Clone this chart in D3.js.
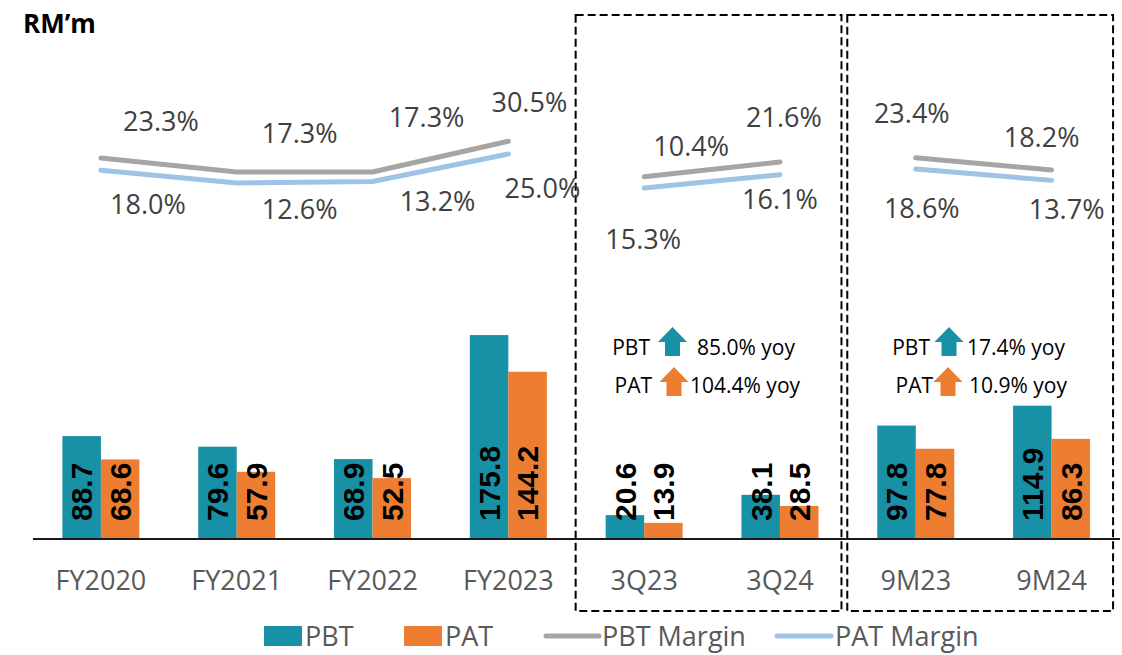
<!DOCTYPE html>
<html>
<head>
<meta charset="utf-8">
<script src="https://cdn.jsdelivr.net/npm/d3@7"></script>
<style>
  body { margin: 0; background: #fff; }
  svg { font-family: "Open Sans", sans-serif; }
</style>
</head>
<body>
<div id="chart"></div>
<script>
// data
var categories = ["FY2020", "FY2021", "FY2022", "FY2023", "3Q23", "3Q24", "9M23", "9M24"];
var pbt = [88.7, 79.6, 68.9, 175.8, 20.6, 38.1, 97.8, 114.9];
var pat = [68.6, 57.9, 52.5, 144.2, 13.9, 28.5, 77.8, 86.3];
var pbtMargin = [23.3, 17.3, 17.3, 30.5, 15.3, 21.6, 23.4, 18.2];
var patMargin = [18.0, 12.6, 13.2, 25.0, 10.4, 16.1, 18.6, 13.7];
// line segments (the margin lines break between groups)
var segments = [["FY2020", "FY2021", "FY2022", "FY2023"], ["3Q23", "3Q24"], ["9M23", "9M24"]];
// dashed boxes and yoy notes
var boxGroups = [["3Q23", "3Q24"], ["9M23", "9M24"]];
var yoyPbt = ["85.0%", "17.4%"];
var yoyPat = ["104.4%", "10.9%"];

// label layout (offsets from the line points, the labels were moved by hand)
var upperOffset = [[60, -27], [63, -29], [54, -45], [21, -29], [47, -21], [4, -35], [-4, -35], [-10, -23]];
var lowerOffset = [[47, 44], [63, 36], [65, 29], [34, 44], [-1, 61], [0, 34], [6, 49], [15, 39]];
// in 3Q23 the two margin labels sit the other way round
var swapLabel = [false, false, false, false, true, false, false, false];

var svgWidth = 1122, svgHeight = 655;
var teal = "#1891a6", orange = "#ed7d31", grey = "#a5a5a5", blue = "#9dc3e6";

var svg = d3.select("#chart").append("svg")
    .attr("width", svgWidth)
    .attr("height", svgHeight);

var baseY = 539;

var xScale = d3.scaleBand()
    .domain(categories)
    .range([33, 1119.5])
    .paddingInner(0.433)
    .paddingOuter(0.2165);

var subScale = d3.scaleBand()
    .domain(["PBT", "PAT"])
    .range([0, xScale.bandwidth()]);

var yScale = d3.scaleLinear()
    .domain([0, 200])
    .range([baseY, baseY - 232]);

// margins on their own scale, drawn above the bars
var mScale = d3.scaleLinear()
    .domain([0, 40])
    .range([212.3, 119.1]);

var cx = d => xScale(d) + xScale.bandwidth() / 2;

// dashed boxes
boxGroups.forEach(function (g) {
    var x0 = xScale(g[0]) - 30;
    var x1 = xScale(g[g.length - 1]) + xScale.bandwidth() + 23;
    svg.append("rect")
        .attr("x", x0)
        .attr("y", 15)
        .attr("width", x1 - x0)
        .attr("height", 596)
        .attr("fill", "none")
        .attr("stroke", "#000")
        .attr("stroke-width", 2)
        .attr("stroke-dasharray", "8,4");
});

// bars
var rows = categories.map((c, i) => ({cat: c, PBT: pbt[i], PAT: pat[i]}));
var groups = svg.selectAll("g.cat")
    .data(rows)
    .enter()
    .append("g")
    .attr("class", "cat")
    .attr("transform", d => `translate(${xScale(d.cat)},0)`);

["PBT", "PAT"].forEach(function (key) {
    groups.append("rect")
        .attr("x", subScale(key))
        .attr("y", d => yScale(d[key]))
        .attr("width", subScale.bandwidth())
        .attr("height", d => baseY - yScale(d[key]))
        .attr("fill", key == "PBT" ? teal : orange);

    groups.append("text")
        .attr("transform", `translate(${subScale(key) + subScale.bandwidth() / 2},${baseY - 18}) rotate(-90)`)
        .attr("dy", "0.36em")
        .attr("font-family", "'Liberation Sans', Arial, sans-serif")
        .attr("font-weight", "bold")
        .attr("font-size", "30px")
        .attr("fill", "#000")
        .text(d => d[key].toFixed(1));
});

// x axis
var xAxis = d3.axisBottom(xScale).tickSize(0);
var axisG = svg.append("g")
    .attr("transform", `translate(0,${baseY})`)
    .call(xAxis);
axisG.select(".domain")
    .attr("stroke", "#1a1a1a")
    .attr("stroke-width", 2)
    .attr("d", "M33,0H1120");
axisG.selectAll("text")
    .attr("y", 51)
    .attr("dy", 0)
    .attr("font-family", "'Open Sans', sans-serif")
    .attr("font-size", "27px")
    .attr("fill", "#595959");

// margin lines
var line = d3.line()
    .x(d => cx(d.cat))
    .y(d => mScale(d.v));

[[pbtMargin, grey], [patMargin, blue]].forEach(function (s) {
    segments.forEach(function (seg) {
        var pts = seg.map(c => ({cat: c, v: s[0][categories.indexOf(c)]}));
        svg.append("path")
            .datum(pts)
            .attr("d", line)
            .attr("fill", "none")
            .attr("stroke", s[1])
            .attr("stroke-width", 5)
            .attr("stroke-linecap", "round")
            .attr("stroke-linejoin", "round");
    });
});

// margin labels
categories.forEach(function (c, i) {
    var topText = swapLabel[i] ? patMargin[i] : pbtMargin[i];
    var botText = swapLabel[i] ? pbtMargin[i] : patMargin[i];
    svg.append("text")
        .attr("x", cx(c) + upperOffset[i][0])
        .attr("y", mScale(pbtMargin[i]) + upperOffset[i][1])
        .attr("text-anchor", "middle")
        .attr("font-size", "27px")
        .attr("fill", "#404040")
        .text(topText.toFixed(1) + "%");
    svg.append("text")
        .attr("x", cx(c) + lowerOffset[i][0])
        .attr("y", mScale(patMargin[i]) + lowerOffset[i][1])
        .attr("text-anchor", "middle")
        .attr("font-size", "27px")
        .attr("fill", "#404040")
        .text(botText.toFixed(1) + "%");
});

// yoy notes with arrows
function arrow(x, yTop, color) {
    var w = 29, h = 29, head = 15, shaft = 15;
    var p = [
        [x, yTop], [x + w / 2, yTop + head], [x + shaft / 2, yTop + head],
        [x + shaft / 2, yTop + h], [x - shaft / 2, yTop + h],
        [x - shaft / 2, yTop + head], [x - w / 2, yTop + head]
    ];
    svg.append("path")
        .attr("d", "M" + p.join("L") + "Z")
        .attr("fill", color);
}

var notes = [
    {pbtEnd: 650, pbtArrow: 672.5, pbtText: 697, patEnd: 652, patArrow: 674, patText: 690},
    {pbtEnd: 930, pbtArrow: 949, pbtText: 967, patEnd: 933, patArrow: 948, patText: 969}
];
notes.forEach(function (n, i) {
    svg.append("text").attr("x", n.pbtEnd).attr("y", 355).attr("text-anchor", "end")
        .attr("font-size", "21px").attr("fill", "#000").text("PBT");
    arrow(n.pbtArrow, 327, teal);
    svg.append("text").attr("x", n.pbtText).attr("y", 355)
        .attr("font-size", "21px").attr("fill", "#000").text(yoyPbt[i] + " yoy");
    svg.append("text").attr("x", n.patEnd).attr("y", 393).attr("text-anchor", "end")
        .attr("font-size", "21px").attr("fill", "#000").text("PAT");
    arrow(n.patArrow, 367, orange);
    svg.append("text").attr("x", n.patText).attr("y", 393)
        .attr("font-size", "21px").attr("fill", "#000").text(yoyPat[i] + " yoy");
});

// unit label
svg.append("text")
    .attr("x", 23)
    .attr("y", 33)
    .attr("font-weight", "bold")
    .attr("font-size", "26px")
    .attr("fill", "#000")
    .text("RM\u2019m");

// legend
var legend = svg.append("g").attr("font-size", "27px").attr("fill", "#595959");
legend.append("rect").attr("x", 264).attr("y", 626).attr("width", 38).attr("height", 20).attr("fill", teal);
legend.append("text").attr("x", 305).attr("y", 646).text("PBT");
legend.append("rect").attr("x", 404).attr("y", 626).attr("width", 38).attr("height", 20).attr("fill", orange);
legend.append("text").attr("x", 445).attr("y", 646).text("PAT");
legend.append("line").attr("x1", 546).attr("x2", 599).attr("y1", 636).attr("y2", 636)
    .attr("stroke", grey).attr("stroke-width", 5).attr("stroke-linecap", "round");
legend.append("text").attr("x", 602).attr("y", 646).text("PBT Margin");
legend.append("line").attr("x1", 777).attr("x2", 831).attr("y1", 636).attr("y2", 636)
    .attr("stroke", blue).attr("stroke-width", 5).attr("stroke-linecap", "round");
legend.append("text").attr("x", 835).attr("y", 646).text("PAT Margin");
</script>
</body>
</html>
